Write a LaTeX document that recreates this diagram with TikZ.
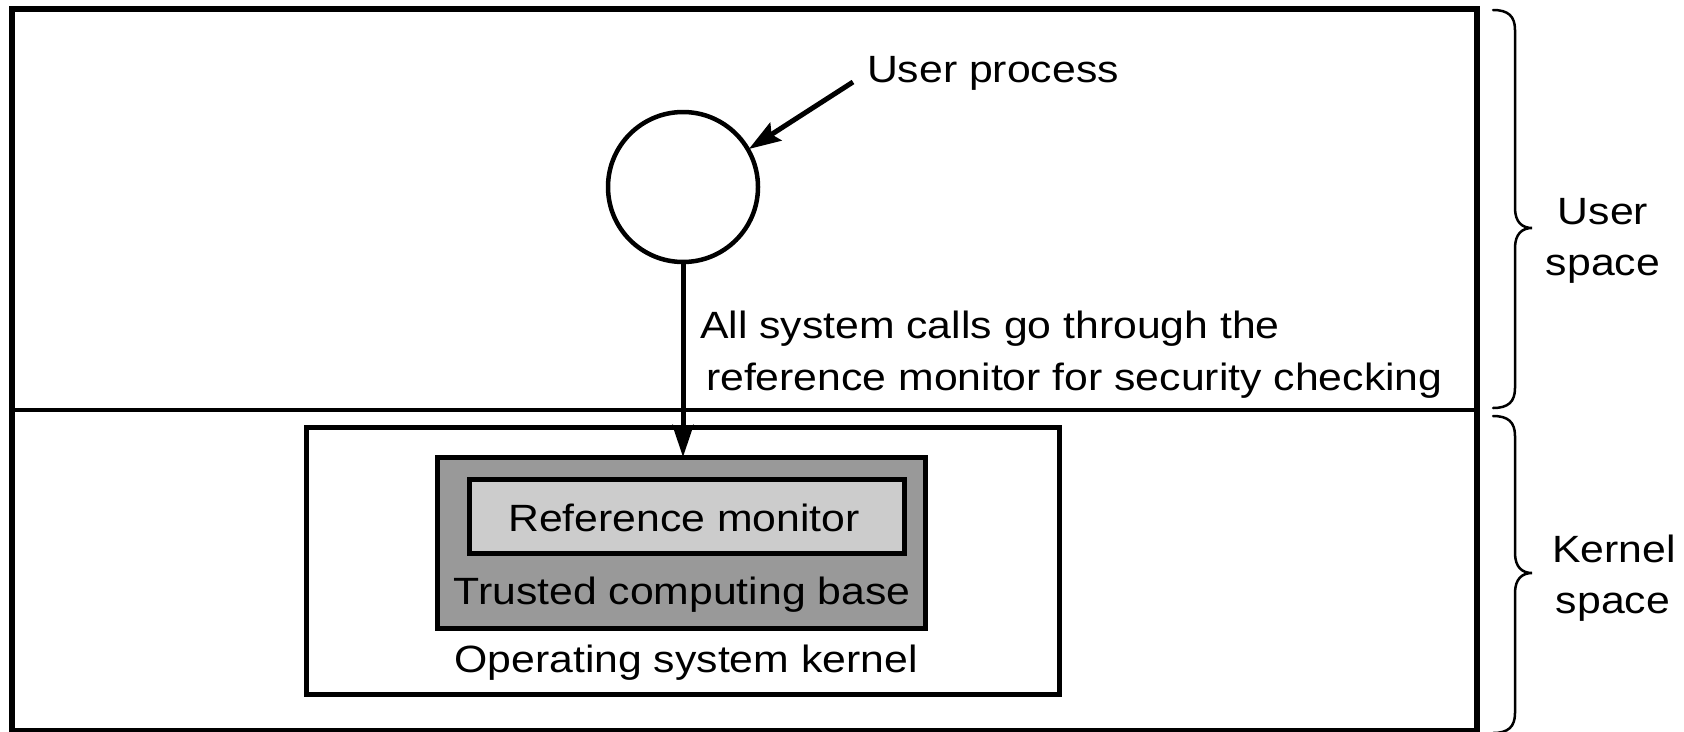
\documentclass[tikz,border=0pt]{standalone}
\usepackage{fontspec}
\setmainfont{Liberation Sans}[FakeStretch=1.125]
\usetikzlibrary{arrows.meta}
\definecolor{tcbgray}{HTML}{999999}
\definecolor{rmgray}{HTML}{CCCCCC}
\begin{document}
\begin{tikzpicture}[x=1pt,y=-1pt,
  lbl/.style={inner sep=0pt, outer sep=0pt, font=\fontsize{38}{46}\selectfont},
  boxstyle/.style={draw=black, line width=5pt, inner sep=0pt, outer sep=0pt},
  arr/.style={line width=5pt, -{Stealth[length=32pt,width=21pt,inset=5pt]}},
  bracestyle/.style={line width=2.5pt, line cap=round}
]
\useasboundingbox (0,0) rectangle (1684,731);
% outer frame and divider
\draw[line width=5.5pt] (12,9) rectangle (1477,731);
\draw[line width=4pt] (12,410) coordinate (divl) -- (1477,410) coordinate (divr);
% kernel boxes
\node[boxstyle, fill=white, minimum width=753pt, minimum height=267pt] (kernel) at (682.5,560.5) {};
\node[boxstyle, fill=tcbgray, minimum width=488pt, minimum height=171pt] (tcb) at (681,542.5) {};
\node[boxstyle, fill=rmgray, minimum width=435pt, minimum height=74pt] (rm) at (686.5,516) {};
\node[lbl, anchor=base] (rmtext) at (684,531) {Reference monitor};
\node[lbl, anchor=base] (tcbtext) at (682,604) {Trusted computing base};
\node[lbl, anchor=base] (ostext) at (686,672) {Operating system kernel};
% user process
\node[draw, circle, line width=4.5pt, minimum size=150pt, inner sep=0pt, outer sep=1pt] (up) at (683,187) {};
\node[lbl, anchor=base west] (uptext) at (867,82) {User process};
\coordinate (upstart) at (853,82);
\draw[arr] (upstart) -- (up.30);
\draw[arr] (up.south) -- (up.south |- tcb.north);
\node[lbl, anchor=base west] (call1) at (700,338) {All system calls go through the};
\node[lbl, anchor=base west] (call2) at (706,390) {reference monitor for security checking};
% braces
\draw[bracestyle] (1493,10) .. controls (1508,10) and (1515,16) .. (1515,30)
  -- (1515,208) .. controls (1515,222) and (1522,228) .. (1532,228)
  .. controls (1522,228) and (1515,234) .. (1515,248)
  -- (1515,388) .. controls (1515,402) and (1508,408) .. (1493,408);
\draw[bracestyle] (1493,416) .. controls (1508,416) and (1515,422) .. (1515,436)
  -- (1515,553) .. controls (1515,567) and (1522,573) .. (1532,573)
  .. controls (1522,573) and (1515,579) .. (1515,593)
  -- (1515,713) .. controls (1515,727) and (1508,733) .. (1493,733);
\node[lbl, anchor=base] (us1) at (1603,224) {User};
\node[lbl, anchor=base] (us2) at (1603,275) {space};
\node[lbl, anchor=base] (ks1) at (1614,562) {Kernel};
\node[lbl, anchor=base] (ks2) at (1613,613) {space};
\end{tikzpicture}
\end{document}
